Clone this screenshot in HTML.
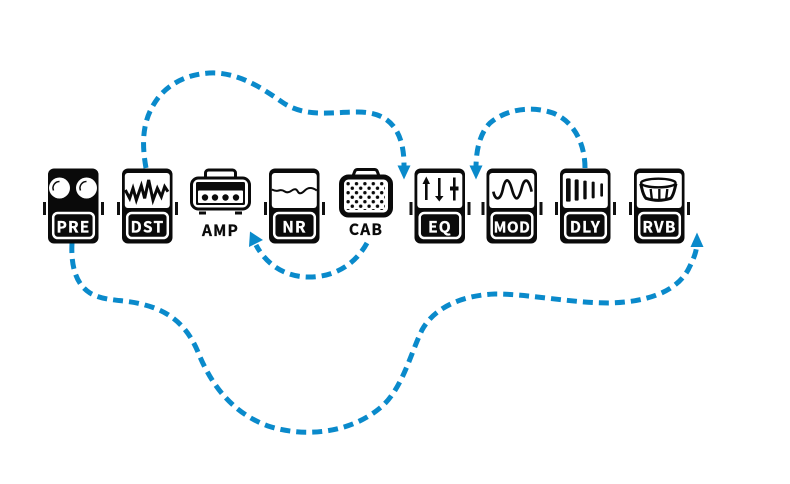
<!DOCTYPE html>
<html><head><meta charset="utf-8"><style>
html,body{margin:0;padding:0;background:#fff}
svg{display:block}
text{font-family:"Noto Sans CJK JP","Liberation Sans",sans-serif;font-weight:700;font-size:15.5px;letter-spacing:1.2px;text-anchor:middle;stroke-width:.3px}
</style></head><body>
<svg width="790" height="484" viewBox="0 0 790 484" xmlns="http://www.w3.org/2000/svg">
<defs>
<g id="ped">
<rect x="-5" y="33.500" width="3" height="13" fill="#111"/>
<rect x="53" y="33.500" width="3" height="13" fill="#111"/>
<rect x="0" y="0" width="50.500" height="75" rx="6" fill="#0a0a0a"/>
<rect x="5.200" y="44.500" width="40.600" height="25" rx="4.500" fill="#0a0a0a" stroke="#fff" stroke-width="2.500"/>
</g>
<g id="scr"><rect x="2.800" y="4.500" width="45" height="35" rx="3" fill="#fff"/></g>
<pattern id="d" width="8.400" height="9" patternUnits="userSpaceOnUse" x="346" y="181.500">
<circle cx="2.100" cy="2.200" r="1.700" fill="#0a0a0a"/><circle cx="6.300" cy="6.700" r="1.700" fill="#0a0a0a"/></pattern>
</defs>
<g fill="none" stroke="#0a8acb" stroke-width="5" stroke-dasharray="10 6">
<path d="M146 168C141 140 143 118 158 98C172 80 195 72 217 73C242 75 262 88 282 102C305 118 330 112 358 112C385 112 397 125 402 145C404 155 404 160 404 168"/>
<path d="M585 168C585 145 575 122 553 113C530 105 505 110 490 123C480 133 476 150 476 168"/>
<path d="M367 243C355 265 333 278 306 277C284 276 266 264 256 245"/>
<path d="M72 243C71 262 74 283 90 293C105 302 125 299 145 305C172 312 188 328 198 352C210 382 230 412 268 426C305 438 350 433 380 408C402 390 410 355 422 330C435 306 465 295 495 294C530 294 570 303 610 303C645 302 675 293 688 270C693 260 696 254 697 244"/>
</g>
<g fill="#0a8acb">
<polygon points="404,179.500 397.500,165.500 410.500,165.500"/>
<polygon points="476,179.500 469.500,165.500 482.500,165.500"/>
<polygon points="250,231.500 249,247 263,240"/>
<polygon points="697,232.500 690.500,247 703.500,247"/>
</g>

<!-- PRE -->
<g transform="translate(48,168.500)"><use href="#ped"/>
<circle cx="11.500" cy="19.500" r="10.500" fill="#fff"/><circle cx="38.500" cy="19.500" r="10.500" fill="#fff"/>
<path d="M5.500 22a6.500 6.500 0 0 1 6-9M32.500 22a6.500 6.500 0 0 1 6-9" fill="none" stroke="#0a0a0a" stroke-width="1.500"/>
<text x="25.500" y="64.200" fill="#fff" stroke="#fff">PRE</text></g>

<!-- DST -->
<g transform="translate(122,168.500)"><use href="#ped"/><use href="#scr"/>
<text x="25.500" y="64.200" fill="#fff" stroke="#fff">DST</text></g>
<g transform="translate(118,165) scale(.3333)"><polyline points="22,75 35,100 45,70 55,105 70,62 80,100 92,45 105,105 118,70 130,95 140,65 150,80" fill="none" stroke="#0a0a0a" stroke-width="9"/></g>

<!-- AMP -->
<g>
<path d="M205.500 178V173a3 3 0 0 1 3-3h24a3 3 0 0 1 3 3v5" fill="#fff" stroke="#0a0a0a" stroke-width="3"/>
<rect x="191.500" y="178" width="58" height="31" rx="7" fill="#fff" stroke="#0a0a0a" stroke-width="3"/>
<rect x="196" y="182" width="49" height="23" rx="1.500" fill="#0a0a0a"/>
<rect x="198" y="190.500" width="45" height="12.500" rx="1" fill="#fff"/>
<circle cx="205" cy="197.500" r="3.200" fill="#0a0a0a"/><circle cx="215" cy="197.500" r="3.200" fill="#0a0a0a"/><circle cx="225.500" cy="197.500" r="3.200" fill="#0a0a0a"/><circle cx="236" cy="197.500" r="3.200" fill="#0a0a0a"/>
<rect x="199" y="211.500" width="7" height="3" fill="#0a0a0a"/><rect x="235" y="211.500" width="7" height="3" fill="#0a0a0a"/>
<text x="220.500" y="236" fill="#0a0a0a" stroke="#0a0a0a">AMP</text></g>

<!-- NR -->
<g transform="translate(269,168.500)"><use href="#ped"/><use href="#scr"/>
<path d="M2.800 21q4 2 7 1t6 1t7-1t6 1t7-1t12 0" fill="none" stroke="#0a0a0a" stroke-width="2"/>
<text x="25.500" y="64.200" fill="#fff" stroke="#fff">NR</text></g>

<!-- CAB -->
<g>
<path d="M353 176l1.500-4a3 3 0 0 1 3-2.500h17a3 3 0 0 1 3 2.500l1.500 4" fill="#fff" stroke="#0a0a0a" stroke-width="3"/>
<rect x="341.500" y="177" width="49" height="38" rx="7" fill="#fff" stroke="#0a0a0a" stroke-width="5"/>
<rect x="346.500" y="182" width="38.500" height="28" fill="url(#d)"/>
<text x="366" y="235" fill="#0a0a0a" stroke="#0a0a0a">CAB</text></g>

<!-- EQ -->
<g transform="translate(414.500,168.500)"><use href="#ped"/><use href="#scr"/>
<text x="25.500" y="64.200" fill="#fff" stroke="#fff">EQ</text></g>
<g fill="#0a0a0a">
<rect x="425" y="179" width="2.600" height="21"/><polygon points="426.300,176.500 422.500,184 430,184"/>
<rect x="438" y="178" width="2.600" height="20"/><polygon points="439.300,201.500 435,196 443.500,196"/>
<rect x="453" y="177.500" width="2.600" height="23"/><rect x="450" y="186.500" width="8.500" height="4"/>
</g>

<!-- MOD -->
<g transform="translate(486.500,168.500)"><use href="#ped"/><use href="#scr"/>
<text x="25.500" y="64" fill="#fff" stroke="#fff" style="font-size:15px;letter-spacing:.6px">MOD</text></g>
<g transform="translate(480,160) scale(.3333)"><path d="M40 95C45 120 60 125 68 90C75 55 85 50 95 85C105 125 115 125 125 85C132 55 145 50 155 95" fill="none" stroke="#0a0a0a" stroke-width="8"/></g>

<!-- DLY -->
<g transform="translate(560,168.500)"><use href="#ped"/><use href="#scr"/>
<text x="25.500" y="64.200" fill="#fff" stroke="#fff">DLY</text></g>
<g transform="translate(480,160) scale(.3333)" fill="#0a0a0a">
<rect x="258" y="55" width="14" height="70" rx="4"/><rect x="284" y="58" width="12" height="64" rx="4"/><rect x="310" y="62" width="10" height="56" rx="3"/><rect x="335" y="65" width="9" height="50" rx="3"/><rect x="361" y="70" width="8" height="40" rx="3"/></g>

<!-- RVB -->
<g transform="translate(634,168.500)"><use href="#ped"/><use href="#scr"/>
<text x="25.500" y="64.200" fill="#fff" stroke="#fff">RVB</text></g>
<g transform="translate(630,165) scale(.3333)">
<path d="M32 56C36 70 38 90 48 100Q85 112 122 100C132 90 134 70 138 56" fill="#fff" stroke="#0a0a0a" stroke-width="9"/>
<ellipse cx="85" cy="54" rx="52" ry="13" fill="#fff" stroke="#0a0a0a" stroke-width="7"/>
<path d="M62 72L66 106M88 72V108M112 72L108 106" fill="none" stroke="#0a0a0a" stroke-width="7"/>
</g>
</svg>
</body></html>
